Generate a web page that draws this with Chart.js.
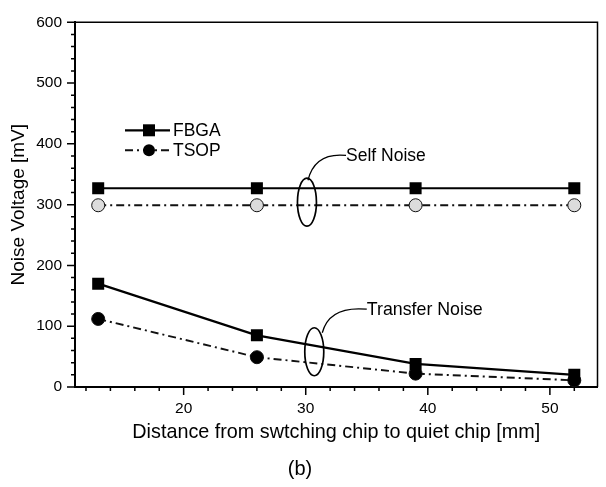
<!DOCTYPE html>
<html>
<head>
<meta charset="utf-8">
<script src="https://cdn.jsdelivr.net/npm/chart.js@4.4.1/dist/chart.umd.min.js"></script>
<style>
  html, body { margin: 0; padding: 0; background: #fff; }
  #wrap { width: 606px; height: 487px; }
</style>
</head>
<body>
<div id="wrap"><canvas id="grafico"></canvas></div>
<script>
const distancias = [13, 26, 39, 52];
const fbgaSelf = [327, 327, 327, 327];
const tsopSelf = [299, 299, 299, 299];
const fbgaTransfer = [170, 85, 38, 20];
const tsopTransfer = [112, 49, 22, 11];
const xTicks = [20, 30, 40, 50];
const yTicks = [0, 100, 200, 300, 400, 500, 600];

const FONT = "'Liberation Sans', Arial, sans-serif";
Chart.defaults.font.family = FONT;
Chart.defaults.color = "#000";

function puntos(ys) {
  return distancias.map((x, i) => ({ x: x, y: ys[i] }));
}

const lineaFbga = {
  borderColor: "#000",
  borderWidth: 2.2,
  pointStyle: "rect",
  pointRadius: 8.5,
  pointBackgroundColor: "#000",
  pointBorderColor: "#000",
  pointBorderWidth: 0
};
const lineaTsop = {
  borderColor: "#111",
  borderWidth: 1.9,
  borderDash: [8, 4, 2, 4],
  pointStyle: "circle",
  pointRadius: 6.5,
  pointBorderColor: "#111",
  pointBorderWidth: 1
};

// frame, minor ticks, legend, callouts and caption
const extras = {
  id: "extras",
  afterDraw(chart) {
    const { ctx, chartArea: a, scales: { x, y } } = chart;
    ctx.save();
    ctx.strokeStyle = "#000";
    ctx.lineWidth = 1.5;
    ctx.beginPath();
    ctx.moveTo(a.left, a.top);
    ctx.lineTo(a.right, a.top);
    ctx.lineTo(a.right, a.bottom);
    ctx.stroke();

    ctx.beginPath();
    for (let v = 12; v <= 52; v += 2) {
      const px = x.getPixelForValue(v);
      const len = v % 10 === 0 ? 8 : 4;
      ctx.moveTo(px, a.bottom);
      ctx.lineTo(px, a.bottom + len);
    }
    for (let v = 0; v <= 600; v += 20) {
      const py = y.getPixelForValue(v);
      const len = v % 100 === 0 ? 8 : 4;
      ctx.moveTo(a.left, py);
      ctx.lineTo(a.left - len, py);
    }
    ctx.stroke();

    // legend
    const ds = chart.data.datasets;
    [ds[0], ds[2]].forEach((d, i) => {
      const ly = a.top + 108 + i * 20;
      const lx = a.left + 50;
      ctx.beginPath();
      ctx.setLineDash(d.borderDash || []);
      ctx.lineWidth = d.borderWidth;
      ctx.strokeStyle = d.borderColor;
      ctx.moveTo(lx, ly);
      ctx.lineTo(lx + 45, ly);
      ctx.stroke();
      ctx.setLineDash([]);
      ctx.fillStyle = "#000";
      if (d.pointStyle === "rect") {
        ctx.fillRect(lx + 18, ly - 6, 12, 12);
      } else {
        ctx.beginPath();
        ctx.arc(lx + 24, ly, 6, 0, Math.PI * 2);
        ctx.fill();
      }
      ctx.font = "17.5px " + FONT;
      ctx.textBaseline = "middle";
      ctx.textAlign = "left";
      ctx.fillText(d.label, lx + 48, ly + 1);
    });

    // callouts
    function callout(cx, cy, tx, ty, texto, sx, sy, kx, ky, size) {
      const ex = x.getPixelForValue(cx), ey = y.getPixelForValue(cy);
      const px = x.getPixelForValue(tx), py = y.getPixelForValue(ty);
      ctx.lineWidth = 1.7;
      ctx.strokeStyle = "#000";
      ctx.beginPath();
      ctx.ellipse(ex, ey, 9.5, 24, 0, 0, Math.PI * 2);
      ctx.stroke();
      ctx.lineWidth = 1.3;
      ctx.beginPath();
      ctx.moveTo(ex + sx, ey + sy);
      ctx.quadraticCurveTo(ex + kx, ey + ky, px, py);
      ctx.stroke();
      ctx.font = size + "px " + FONT;
      ctx.textBaseline = "middle";
      ctx.textAlign = "left";
      ctx.fillText(texto, px, py + 1);
    }
    callout(30.1, 304, 33.3, 381, "Self Noise", 1, -22, 8, -50, 17.5);
    callout(30.7, 58, 35.0, 128, "Transfer Noise", 8, -19, 15, -46, 17.8);

    ctx.font = "20px " + FONT;
    ctx.textAlign = "center";
    ctx.textBaseline = "middle";
    ctx.fillText("(b)", 300, 469);
    ctx.restore();
  }
};

new Chart(document.getElementById("grafico"), {
  type: "line",
  data: {
    datasets: [
      Object.assign({ label: "FBGA", data: puntos(fbgaSelf) }, lineaFbga),
      Object.assign({ label: "FBGA", data: puntos(fbgaTransfer) }, lineaFbga),
      Object.assign({ label: "TSOP", data: puntos(tsopSelf), pointBackgroundColor: "#dcdcdc" }, lineaTsop),
      Object.assign({ label: "TSOP", data: puntos(tsopTransfer), pointBackgroundColor: "#000" }, lineaTsop)
    ]
  },
  options: {
    responsive: true,
    maintainAspectRatio: false,
    animation: false,
    layout: { padding: { top: 17, right: 1, left: 0, bottom: 0 } },
    plugins: {
      legend: { display: false },
      tooltip: { enabled: false }
    },
    scales: {
      x: {
        type: "linear",
        min: 11.1,
        max: 53.9,
        afterBuildTicks: s => { s.ticks = xTicks.map(v => ({ value: v })); },
        afterFit: s => { s.height = 100; },
        ticks: { font: { size: 15.5 }, padding: 12, maxRotation: 0 },
        grid: { display: false, drawTicks: false },
        border: { color: "#000", width: 2 },
        title: {
          display: true,
          text: "Distance from swtching chip to quiet chip [mm]",
          font: { size: 19.8 },
          padding: { top: 0, bottom: 43 }
        }
      },
      y: {
        min: 0,
        max: 600,
        afterBuildTicks: s => { s.ticks = yTicks.map(v => ({ value: v })); },
        afterFit: s => { s.width = 75; },
        ticks: { font: { size: 15.5 }, padding: 13 },
        grid: { display: false, drawTicks: false },
        border: { color: "#000", width: 2 },
        title: {
          display: true,
          text: "Noise Voltage [mV]",
          font: { size: 19 },
          padding: { top: 7, bottom: 0 }
        }
      }
    }
  },
  plugins: [extras]
});
</script>
</body>
</html>
